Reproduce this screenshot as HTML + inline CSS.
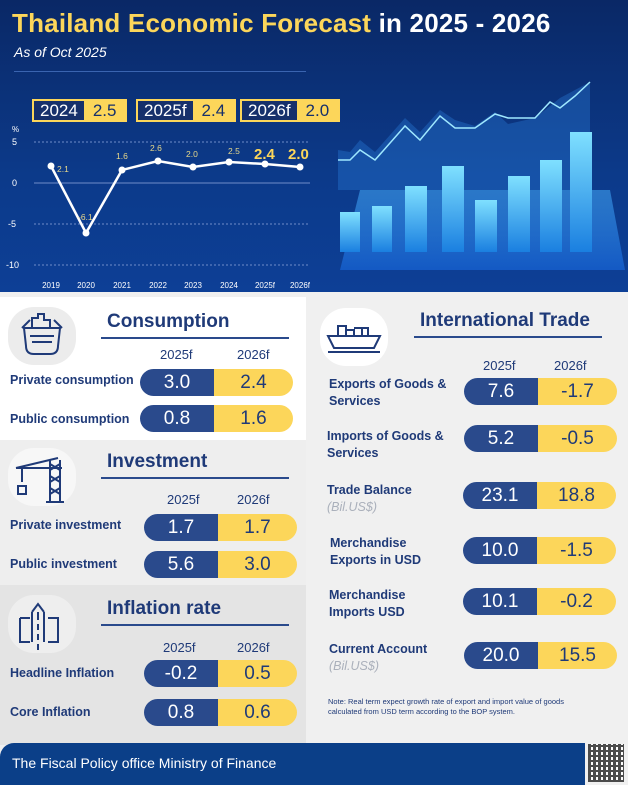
<!DOCTYPE html>
<html><head><meta charset="utf-8">
<style>
*{margin:0;padding:0;box-sizing:border-box}
body{width:628px;height:785px;position:relative;overflow:hidden;font-family:"Liberation Sans",sans-serif;background:#f0f0f0}
.a{position:absolute}
.hdr{left:0;top:0;width:628px;height:292px;background:linear-gradient(180deg,#0a2866 0%,#0c3a8a 60%,#0d3f96 100%)}
.pill{position:absolute;width:153px;height:27px;border-radius:14px;overflow:hidden;display:flex;font-size:19px;color:#fff}
.pill span{display:flex;align-items:center;justify-content:center}
.pill .n{background:#2a4a8c;width:74px}
.pill .y{background:#fcd65a;color:#1f3a78;flex:1}
.lbl{position:absolute;color:#1f3a78;font-size:12.5px;font-weight:bold;line-height:17px}
.sub{color:#aab0bb;font-style:italic;font-weight:normal}
.yr{position:absolute;color:#1f3a78;font-size:13px}
.ttl{position:absolute;color:#1f3a78;font-size:19px;font-weight:bold;border-bottom:2px solid #2a4a8c;padding-bottom:4px}
.ic{position:absolute;width:68px;height:58px;border-radius:26px;background:#ececec}
.yb{position:absolute;display:flex;height:23px;border:2px solid #fcd65a;font-size:17px}
.yb .k{background:#16306b;color:#fff;padding:0 6px;display:flex;align-items:center}
.yb .v{background:#fcd65a;color:#16306b;padding:0 9px;display:flex;align-items:center}
svg.i{position:absolute;fill:none;stroke:#1f3a78;stroke-width:2}
</style></head><body>
<div class="a hdr"></div>
<svg class="a" style="left:330px;top:40px" width="298" height="240">
<defs><linearGradient id="g" x1="0" y1="0" x2="0" y2="1"><stop offset="0" stop-color="#7fe0ff"/><stop offset="1" stop-color="#1a7fe0"/></linearGradient>
<linearGradient id="p" x1="0" y1="0" x2="0" y2="1"><stop offset="0" stop-color="#3fa0f0" stop-opacity=".6"/><stop offset="1" stop-color="#1560d0" stop-opacity=".8"/></linearGradient></defs>
<polygon points="10,230 30,150 280,150 295,230" fill="url(#p)"/>
<polygon points="8,110 20,112 30,100 45,112 75,78 90,92 110,70 125,80 145,86 165,72 178,84 205,78 230,58 260,42 260,150 8,150" fill="#2a80e0" fill-opacity=".35"/>
<polyline points="8,120 20,120 30,110 45,120 75,86 90,100 110,76 125,88 145,88 165,74 178,78 205,78 220,62 230,68 245,56 260,42" fill="none" stroke="#9fe8ff" stroke-width="1.5"/>
<rect x="10" y="172" width="20" height="40" fill="url(#g)"/>
<rect x="42" y="166" width="20" height="46" fill="url(#g)"/>
<rect x="75" y="146" width="22" height="66" fill="url(#g)"/>
<rect x="112" y="126" width="22" height="86" fill="url(#g)"/>
<rect x="145" y="160" width="22" height="52" fill="url(#g)"/>
<rect x="178" y="136" width="22" height="76" fill="url(#g)"/>
<rect x="210" y="120" width="22" height="92" fill="url(#g)"/>
<rect x="240" y="92" width="22" height="120" fill="url(#g)"/>
</svg>
<div class="a" style="left:12px;top:8px;font-size:26px;font-weight:bold;color:#fcd65a;letter-spacing:0.2px">Thailand Economic Forecast <span style="color:#fff">in 2025 - 2026</span></div>
<div class="a" style="left:14px;top:44px;font-size:14px;font-style:italic;color:#fff">As of Oct 2025</div>
<div class="a" style="left:14px;top:71px;width:292px;height:1px;background:#3a64b0"></div>
<div class="yb" style="left:32px;top:99px"><span class="k">2024</span><span class="v">2.5</span></div>
<div class="yb" style="left:136px;top:99px"><span class="k">2025f</span><span class="v">2.4</span></div>
<div class="yb" style="left:240px;top:99px"><span class="k">2026f</span><span class="v">2.0</span></div>
<svg class="a" style="left:0;top:120px" width="330" height="175" font-family="Liberation Sans" >
<text x="12" y="12" font-size="8" fill="#fff">%</text>
<g fill="#fff" font-size="9"><text x="12" y="25">5</text><text x="12" y="66">0</text><text x="8" y="107">-5</text><text x="6" y="148">-10</text></g>
<g stroke="#6f8cc8" stroke-dasharray="2,2" stroke-width="1"><line x1="34" y1="22" x2="310" y2="22"/><line x1="34" y1="104" x2="310" y2="104"/><line x1="34" y1="145" x2="310" y2="145"/></g>
<line x1="34" y1="63" x2="310" y2="63" stroke="#6f8cc8"/>
<polyline points="51,46 86,113 122,50 158,41 193,47 229,42 265,44 300,47" fill="none" stroke="#fff" stroke-width="2.5"/>
<g fill="#fff"><circle cx="51" cy="46" r="3.5"/><circle cx="86" cy="113" r="3.5"/><circle cx="122" cy="50" r="3.5"/><circle cx="158" cy="41" r="3.5"/><circle cx="193" cy="47" r="3.5"/><circle cx="229" cy="42" r="3.5"/><circle cx="265" cy="44" r="3.5"/><circle cx="300" cy="47" r="3.5"/></g>
<g fill="#e8d98a" font-size="8.5"><text x="57" y="52">2.1</text><text x="78" y="100">-6.1</text><text x="116" y="39">1.6</text><text x="150" y="31">2.6</text><text x="186" y="37">2.0</text><text x="228" y="34">2.5</text></g>
<g fill="#fcd65a" font-size="15" font-weight="bold"><text x="254" y="39">2.4</text><text x="288" y="39">2.0</text></g>
<g fill="#fff" font-size="8" text-anchor="middle"><text x="51" y="168">2019</text><text x="86" y="168">2020</text><text x="122" y="168">2021</text><text x="158" y="168">2022</text><text x="193" y="168">2023</text><text x="229" y="168">2024</text><text x="265" y="168">2025f</text><text x="300" y="168">2026f</text></g>
</svg>
<!-- panels -->
<div class="a" style="left:0;top:297px;width:306px;height:143px;background:#fff"></div>
<div class="a" style="left:0;top:440px;width:306px;height:145px;background:#eeeeee"></div>
<div class="a" style="left:0;top:585px;width:306px;height:160px;background:#e4e4e4"></div>
<div class="a" style="left:312px;top:297px;width:316px;height:450px;background:#f0f0f0"></div>
<div class="ic" style="left:8px;top:307px"></div>
<div class="ic" style="left:8px;top:448px;background:#f7f7f7"></div>
<div class="ic" style="left:8px;top:595px;background:#eeeeee"></div>
<div class="ic" style="left:320px;top:308px;background:#fff"></div>
<svg class="i" style="left:18px;top:310px" width="48" height="50"><path d="M8 36 L6 18 H42 L40 36 Q40 44 32 44 H16 Q8 44 8 36Z M4 18 L12 10 M44 18 L36 10 M14 32 H34 M12 26 H36 M14 18 V8 H20 V4 H26 V10 H32 V18"/></svg>
<svg class="i" style="left:14px;top:454px" width="50" height="50"><path d="M2 14 L44 4 M2 14 H48 M36 6 V48 M46 6 V48 M36 10 L46 16 M46 10 L36 16 M36 22 L46 28 M46 22 L36 28 M36 34 L46 40 M46 34 L36 40 M32 48 H50 M8 14 V28 M4 32 H12 V40 H4Z"/></svg>
<svg class="i" style="left:18px;top:600px" width="46" height="50"><path d="M20 50 V44 M20 40 V34 M20 30 V24 M20 20 V12 M14 12 L20 4 L26 12 M26 12 V42 M14 12 V42 M2 18 H12 M2 18 V42 H12 M30 18 H40 V42 H30"/></svg>
<svg class="i" style="left:324px;top:316px" width="60" height="40"><path d="M4 20 H56 L50 32 H10Z M14 20 V10 H22 V20 M22 14 H30 V20 M30 12 H38 V20 M38 12 H44 V20 M4 36 H56"/></svg>
<div class="ttl" style="left:101px;top:311px;width:188px;padding-left:6px">Consumption</div>
<div class="yr" style="left:160px;top:347px">2025f</div><div class="yr" style="left:237px;top:347px">2026f</div>
<div class="lbl" style="left:10px;top:372px">Private consumption</div>
<div class="pill" style="left:140px;top:369px"><span class="n">3.0</span><span class="y">2.4</span></div>
<div class="lbl" style="left:10px;top:411px">Public consumption</div>
<div class="pill" style="left:140px;top:405px"><span class="n">0.8</span><span class="y">1.6</span></div>
<div class="ttl" style="left:101px;top:451px;width:188px;padding-left:6px">Investment</div>
<div class="yr" style="left:167px;top:492px">2025f</div><div class="yr" style="left:237px;top:492px">2026f</div>
<div class="lbl" style="left:10px;top:517px">Private investment</div>
<div class="pill" style="left:144px;top:514px"><span class="n">1.7</span><span class="y">1.7</span></div>
<div class="lbl" style="left:10px;top:556px">Public investment</div>
<div class="pill" style="left:144px;top:551px"><span class="n">5.6</span><span class="y">3.0</span></div>
<div class="ttl" style="left:101px;top:598px;width:188px;padding-left:6px">Inflation rate</div>
<div class="yr" style="left:163px;top:640px">2025f</div><div class="yr" style="left:237px;top:640px">2026f</div>
<div class="lbl" style="left:10px;top:665px">Headline Inflation</div>
<div class="pill" style="left:144px;top:660px"><span class="n">-0.2</span><span class="y">0.5</span></div>
<div class="lbl" style="left:10px;top:704px">Core Inflation</div>
<div class="pill" style="left:144px;top:699px"><span class="n">0.8</span><span class="y">0.6</span></div>
<!-- right -->
<div class="ttl" style="left:414px;top:310px;width:188px;padding-left:6px">International Trade</div>
<div class="yr" style="left:483px;top:358px">2025f</div><div class="yr" style="left:554px;top:358px">2026f</div>
<div class="lbl" style="left:329px;top:376px">Exports of Goods &amp;<br>Services</div>
<div class="pill" style="left:464px;top:378px"><span class="n">7.6</span><span class="y">-1.7</span></div>
<div class="lbl" style="left:327px;top:428px">Imports of Goods &amp;<br>Services</div>
<div class="pill" style="left:464px;top:425px"><span class="n">5.2</span><span class="y">-0.5</span></div>
<div class="lbl" style="left:327px;top:482px">Trade Balance<br><span class="sub">(Bil.US$)</span></div>
<div class="pill" style="left:463px;top:482px"><span class="n">23.1</span><span class="y">18.8</span></div>
<div class="lbl" style="left:330px;top:535px">Merchandise<br>Exports in USD</div>
<div class="pill" style="left:463px;top:537px"><span class="n">10.0</span><span class="y">-1.5</span></div>
<div class="lbl" style="left:329px;top:587px">Merchandise<br>Imports USD</div>
<div class="pill" style="left:463px;top:588px"><span class="n">10.1</span><span class="y">-0.2</span></div>
<div class="lbl" style="left:329px;top:641px">Current Account<br><span class="sub">(Bil.US$)</span></div>
<div class="pill" style="left:464px;top:642px"><span class="n">20.0</span><span class="y">15.5</span></div>
<div class="a" style="left:328px;top:697px;font-size:7.5px;color:#1f3a78;line-height:10px">Note: Real term expect growth rate of export and import value of goods<br>calculated from USD term according to the BOP system.</div>
<div class="a" style="left:0;top:743px;width:585px;height:42px;background:#0b3f88;border-top-left-radius:14px"></div>
<div class="a" style="left:12px;top:755px;font-size:14px;color:#fff">The Fiscal Policy office Ministry of Finance</div>
<div class="a" style="left:588px;top:744px;width:36px;height:38px;background:repeating-linear-gradient(90deg,#222 0 3px,transparent 3px 5px),repeating-linear-gradient(0deg,#222 0 2px,#fff 2px 5px);opacity:.8"></div>
</body></html>
